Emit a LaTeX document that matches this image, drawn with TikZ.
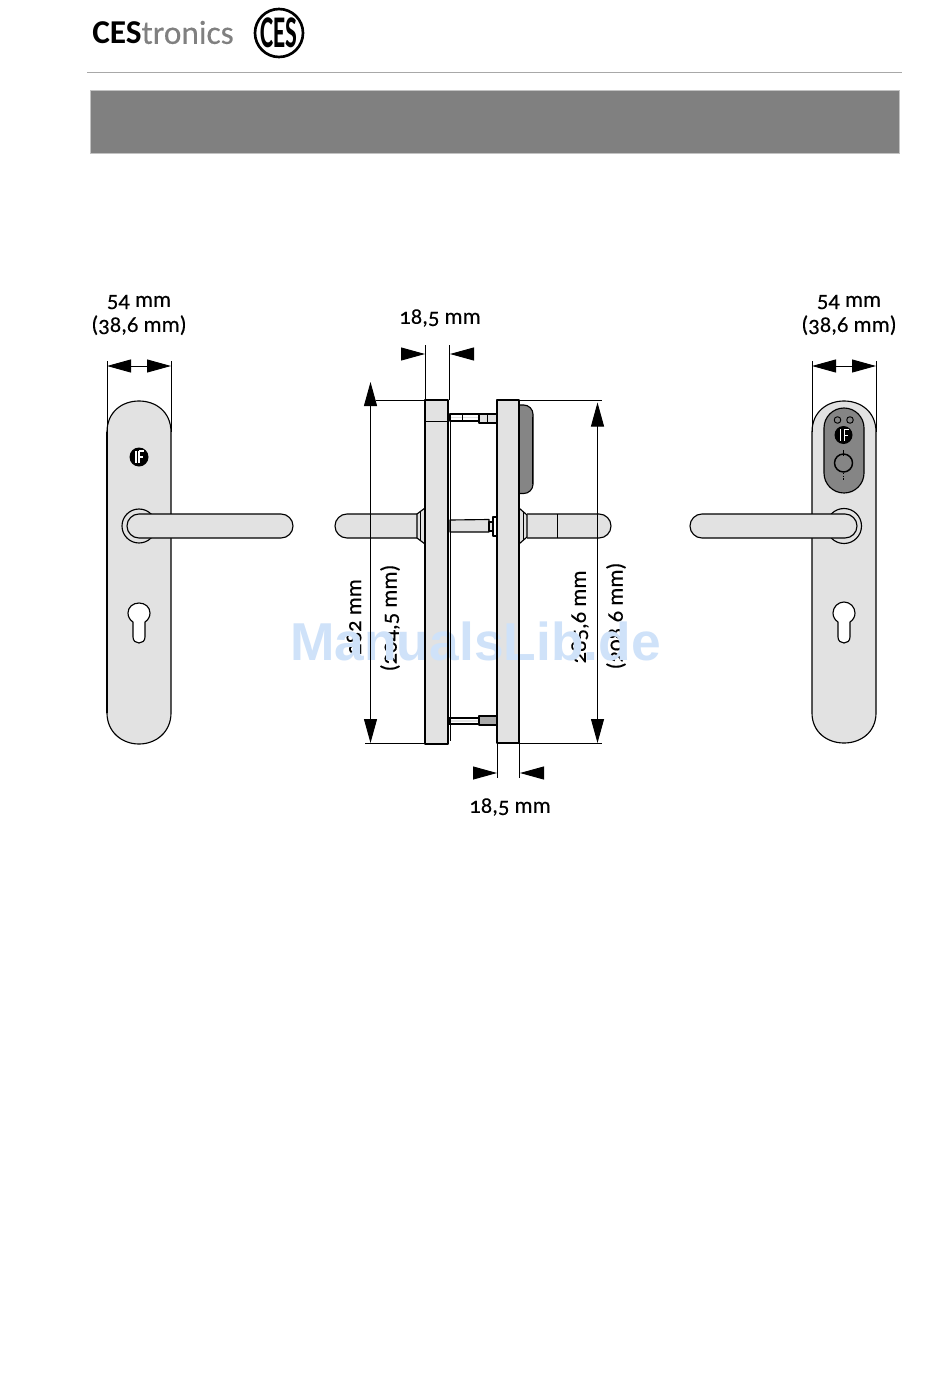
\documentclass[tikz,border=0pt]{standalone}
\usepackage{fontspec}
\setmainfont[Numbers=OldStyle]{Carlito}
\newfontfamily\dimfont[Numbers=OldStyle,FakeBold=0.25]{Carlito}
\newfontfamily\markfont{Liberation Sans}
\usetikzlibrary{arrows.meta}
\definecolor{platefill}{HTML}{E2E2E2}
\definecolor{padfill}{HTML}{858585}
\definecolor{bandfill}{HTML}{808080}
\definecolor{rulegray}{HTML}{A8A8A8}
\definecolor{markblue}{HTML}{CFE2F9}

\begin{document}
\begin{tikzpicture}[x=0.75pt,y=-0.75pt,
  outline/.style={draw=black,line width=0.85pt,line join=round},
  plate/.style={outline,fill=platefill},
  pad/.style={outline,fill=padfill},
  hole/.style={outline,fill=white},
  thin line/.style={draw=black,line width=0.7pt},
  dim/.style={thin line,{Triangle[length=18pt,width=9.75pt]}-{Triangle[length=18pt,width=9.75pt]}},
  tip/.style={thin line,shorten <=1pt,-{Triangle[length=18pt,width=9.75pt]}},
  dim label/.style={font=\dimfont\fontsize{17}{18.75}\selectfont,inner sep=0pt,align=center}]

  \useasboundingbox[fill=white] (0,0) rectangle (950,1391);

  % header
  \node[anchor=west,inner sep=0pt,font=\fontsize{25}{28}\selectfont] (brand) at (92,32.5)
    {\textbf{CES}\textcolor{bandfill}{\dimfont tronics}};
  \draw[line width=2pt] (279,33) circle (24);
  \node[inner sep=0pt,xscale=0.55,font=\fontsize{34}{34}\selectfont\bfseries] (ceslogo) at (279,33) {CES};
  \draw[rulegray,line width=1pt] (87,72.5) -- (902,72.5);
  \draw[rulegray!70,line width=0.5pt,fill=bandfill] (90,90) rectangle (899,153);

  % labels lie under the watermark
  \node[dim label,rotate=90] (hleft) at (354,617) {282 mm};
  \node[dim label,rotate=90] (hleftb) at (390,618) {(204,5 mm)};
  \node[dim label,rotate=90] (hright) at (580,617) {285,6 mm};
  \node[dim label,rotate=90] (hrightb) at (616,616) {(208,6 mm)};
  % plate faces, the mark covers them too
  \fill[platefill] (425,400) rectangle (448,744);
  \fill[platefill] (497,400) rectangle (519,743);
  \node[inner sep=0pt,text=markblue,font=\markfont\bfseries\fontsize{40}{40}\selectfont] (mark) at (475.5,641) {ManualsLib.de};

  % left view
  \draw[plate] (107,432) .. controls (107,412) and (122,401) .. (139,401)
    .. controls (156,401) and (171,412) .. (171,432) -- (171,713)
    .. controls (171,732) and (156,744) .. (139,744)
    .. controls (122,744) and (107,732) .. (107,713) -- cycle;
  \draw[line width=1.3pt] (107,432) -- (107,713);
  \fill (139,457) circle (9.5);
  \draw[white,line width=0.8pt] (136,451) -- (136,463) (139,451) -- (139,463) (139,451) -- (144,451) (139,457) -- (143,457);
  \draw[plate] (139,526) circle (17);
  \draw[plate,rounded corners=9pt] (127,514) rectangle (293,538);
  \draw[hole] (133,622) .. controls (130,620) and (128,617) .. (128,613)
    .. controls (128,607) and (133,603) .. (139,603)
    .. controls (145,603) and (150,607) .. (150,613)
    .. controls (150,617) and (148,620) .. (145,622) -- (145,637)
    .. controls (145,641) and (142,643) .. (139,643)
    .. controls (136,643) and (133,641) .. (133,637) -- cycle;

  \coordinate (la) at (107,366);
  \coordinate (lb) at (171,366);
  \draw[thin line] (107,361) -- (107,432) (171,361) -- (171,432);
  \draw[dim] (la) -- (lb);
  \node[dim label] (lwidth) at (139,315) {54 mm\\(38,6 mm)};

  % middle view, handles
  \draw[plate,rounded corners=9pt] (417,514) -- (335,514) -- (335,538) -- (417,538);
  \draw[plate] (417,514) -- (425,508) -- (425,544) -- (417,538) -- cycle;
  \draw[thin line] (420,512) -- (420,540);
  \draw[plate,rounded corners=9pt] (527,514) -- (611,514) -- (611,538) -- (527,538);
  \draw[plate] (527,515) -- (519,508) -- (519,544) -- (527,537) -- cycle;
  \draw[thin line] (523,512) -- (523,540) (557,514) -- (557,538);

  % middle view, spindle and bolts
  \draw[plate] (450,520) -- (489,519.5) -- (489,532) -- (450,532) -- cycle;
  \draw[plate] (489,522) rectangle (493,531);
  \draw[hole] (493,517) rectangle (497,536);
  \draw[hole] (450,414) rectangle (480,421);
  \draw[platefill,line width=1pt] (451,417.5) -- (479,417.5);
  \draw[thin line] (462,414) -- (462,421);
  \draw[plate] (479,414) rectangle (497,423);
  \draw[thin line] (487,414) -- (487,423);
  \draw[hole] (449,718) rectangle (479,724);
  \draw[platefill,line width=0.8pt] (451,721) -- (478,721);
  \draw[plate,fill=platefill!75!black] (479,716) rectangle (497,725);

  % middle view, plates
  \draw[outline] (425,400) rectangle (448,744);
  \draw[thin line] (425,421.5) -- (448,421.5);
  \draw[thin line] (450,421) -- (450,741);
  \draw[line width=1.3pt] (426,743.5) -- (447,743.5);
  \draw[pad,rounded corners=7pt] (519,405) -- (533,405) -- (533,493.5) -- (519,493.5);
  \draw[line width=1.3pt] (532.5,417) -- (532.5,484);
  \draw[outline] (497,400) rectangle (519,743);

  % middle view, dimensions
  \draw[thin line] (376,400) -- (425,400) (519,400) -- (602,400);
  \draw[thin line] (365,743.5) -- (425,743.5) (519,743.5) -- (602,743.5);
  \coordinate (ha) at (370.5,382);
  \coordinate (hb) at (370.5,743);
  \coordinate (hc) at (597.5,402.5);
  \coordinate (hd) at (597.5,743);
  \draw[dim] (ha) -- (hb);
  \draw[dim] (hc) -- (hd);

  \draw[thin line] (425,345) -- (425,400) (449.5,345) -- (449.5,400);
  \coordinate (ta) at (403,354);
  \coordinate (tb) at (425,354);
  \coordinate (tc) at (474,354);
  \coordinate (td) at (450,354);
  \draw[tip] (ta) -- (tb);
  \draw[tip] (tc) -- (td);
  \node[dim label] (tlabel) at (440,318) {18,5 mm};

  \draw[thin line] (497,743) -- (497,777.5) (519,743) -- (519,777.5);
  \coordinate (ba) at (473,773);
  \coordinate (bb) at (497,773);
  \coordinate (bc) at (544,773);
  \coordinate (bd) at (520,773);
  \draw[tip] (ba) -- (bb);
  \draw[tip] (bc) -- (bd);
  \node[dim label] (blabel) at (510,807) {18,5 mm};

  % right view
  \draw[plate] (812,432) .. controls (812,412) and (827,401) .. (844,401)
    .. controls (861,401) and (876,412) .. (876,432) -- (876,713)
    .. controls (876,732) and (861,743) .. (844,743)
    .. controls (827,743) and (812,732) .. (812,713) -- cycle;
  \draw[pad,rounded corners=15pt] (824,408) rectangle (864,493);
  \draw[outline,fill=padfill,line width=0.7pt] (837.5,420) circle (3.3);
  \draw[outline,fill=padfill,line width=0.7pt] (850,420) circle (3.3);
  \fill (843.5,435) circle (9);
  \draw[white,line width=0.7pt] (840,429) -- (840,441) (844,429) -- (844,441) (844,429) -- (849,429) (844,435) -- (848,435);
  \draw[outline,line width=1.1pt] (843.5,463) circle (9);
  \draw[line width=1.2pt] (843.5,450) -- (843.5,456);
  \draw[line width=1pt,densely dotted] (843.5,473) -- (843.5,481);
  \draw[plate] (844,526) circle (17.5);
  \draw[plate,rounded corners=9pt] (690,514) rectangle (857,538);
  \draw[hole] (838,622) .. controls (835,620) and (833,617) .. (833,613)
    .. controls (833,607) and (838,602) .. (844,602)
    .. controls (850,602) and (855,607) .. (855,613)
    .. controls (855,617) and (853,620) .. (850,622) -- (850,637)
    .. controls (850,641) and (847,643) .. (844,643)
    .. controls (841,643) and (838,641) .. (838,637) -- cycle;

  \coordinate (ra) at (812,366);
  \coordinate (rb) at (876,366);
  \draw[thin line] (812,361) -- (812,432) (876,361) -- (876,432);
  \draw[dim] (ra) -- (rb);
  \node[dim label] (rwidth) at (849,315) {54 mm\\(38,6 mm)};
\end{tikzpicture}
\end{document}
